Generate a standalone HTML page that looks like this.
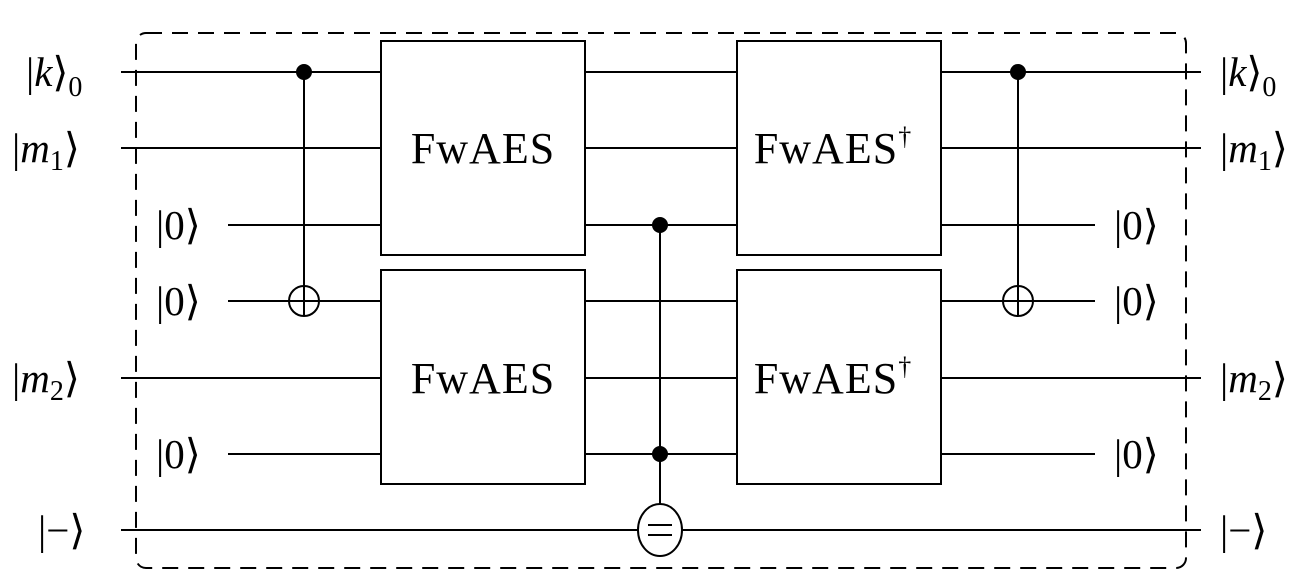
<!DOCTYPE html>
<html><head><style>body{margin:0;background:#fff}svg{display:block}</style></head><body>
<svg width="1313" height="581" viewBox="0 0 1313 581" xmlns="http://www.w3.org/2000/svg" font-family="'Liberation Serif',serif" font-size="41">
<g stroke="#000" stroke-width="2" fill="none">
<rect x="136" y="33" width="1050" height="535" rx="10" stroke-dasharray="16,10"/>
<line x1="121" y1="72" x2="1201" y2="72"/>
<line x1="121" y1="148" x2="1201" y2="148"/>
<line x1="228" y1="225" x2="1095" y2="225"/>
<line x1="228" y1="301" x2="1095" y2="301"/>
<line x1="121" y1="378" x2="1201" y2="378"/>
<line x1="228" y1="454" x2="1095" y2="454"/>
<line x1="121" y1="530" x2="1201" y2="530"/>
<rect x="381" y="41" width="204" height="214" fill="#fff"/>
<rect x="381" y="270" width="204" height="214" fill="#fff"/>
<rect x="737" y="41" width="204" height="214" fill="#fff"/>
<rect x="737" y="270" width="204" height="214" fill="#fff"/>
<line x1="304" y1="72" x2="304" y2="316"/>
<circle cx="304" cy="301" r="15"/>
<line x1="289" y1="301" x2="319" y2="301"/>
<line x1="1018" y1="72" x2="1018" y2="316"/>
<circle cx="1018" cy="301" r="15"/>
<line x1="1003" y1="301" x2="1033" y2="301"/>
<line x1="660" y1="225" x2="660" y2="504"/>
<ellipse cx="660" cy="530" rx="22" ry="26" fill="#fff"/>
<line x1="648" y1="525" x2="672" y2="525"/>
<line x1="648" y1="535" x2="672" y2="535"/>
</g>
<g fill="#000">
<circle cx="304" cy="72" r="8"/><circle cx="1018" cy="72" r="8"/>
<circle cx="660" cy="225" r="8"/><circle cx="660" cy="454" r="8"/>
</g>
<g text-anchor="middle" font-size="44" letter-spacing="1">
<text x="483" y="163">FwAES</text>
<text x="483" y="393">FwAES</text>
<text x="833" y="163">FwAES<tspan font-size="26" dy="-18">†</tspan></text>
<text x="833" y="393">FwAES<tspan font-size="26" dy="-18">†</tspan></text>
</g>
<g>
<text x="26" y="86">|<tspan font-style="italic">k</tspan>⟩<tspan font-size="28" dy="10">0</tspan></text>
<text x="12" y="162">|<tspan font-style="italic">m</tspan><tspan font-size="28" dy="8">1</tspan><tspan dy="-8">⟩</tspan></text>
<text x="156" y="239">|0⟩</text>
<text x="156" y="315">|0⟩</text>
<text x="12" y="392">|<tspan font-style="italic">m</tspan><tspan font-size="28" dy="8">2</tspan><tspan dy="-8">⟩</tspan></text>
<text x="156" y="468">|0⟩</text>
<text x="38" y="544">|−⟩</text>
<text x="1220" y="86">|<tspan font-style="italic">k</tspan>⟩<tspan font-size="28" dy="10">0</tspan></text>
<text x="1220" y="162">|<tspan font-style="italic">m</tspan><tspan font-size="28" dy="8">1</tspan><tspan dy="-8">⟩</tspan></text>
<text x="1114" y="239">|0⟩</text>
<text x="1114" y="315">|0⟩</text>
<text x="1220" y="392">|<tspan font-style="italic">m</tspan><tspan font-size="28" dy="8">2</tspan><tspan dy="-8">⟩</tspan></text>
<text x="1114" y="468">|0⟩</text>
<text x="1220" y="544">|−⟩</text>
</g>
</svg>
</body></html>
